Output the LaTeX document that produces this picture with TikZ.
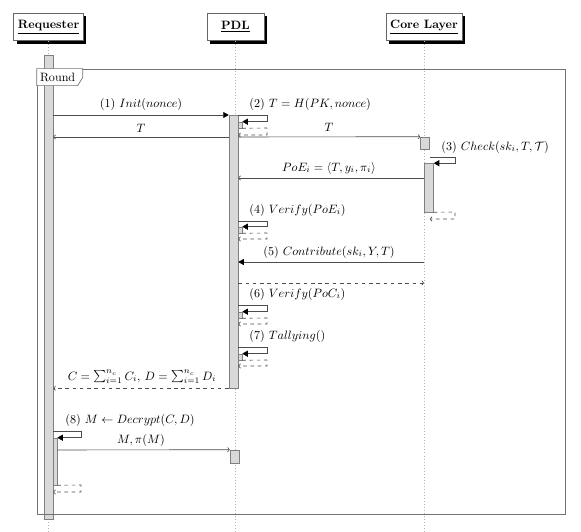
\documentclass[tikz,border=0pt]{standalone}
\usetikzlibrary{arrows.meta,fit,shadows}
\begin{document}
\begin{tikzpicture}[x=0.826pt,y=-0.826pt,
  hdr/.style={draw=gray!80!black, fill=white, font=\bfseries, inner xsep=3.5pt, minimum height=22.5pt, minimum width=47pt,
    drop shadow={shadow xshift=2.4pt, shadow yshift=-2.4pt, fill=black, opacity=1}},
  bar/.style={draw=gray, fill=gray!30, inner sep=0pt, line width=0.5pt},
  life/.style={draw=gray!60, dotted, line width=0.5pt},
  call/.style={draw=black!70, line width=0.5pt, -{Triangle[length=4.5pt,width=5pt,color=black]}},
  mess/.style={draw=black!70, line width=0.5pt, -{To[length=2pt,width=4pt]}},
  ret/.style={mess, dashed},
  lbl/.style={inner sep=1pt},
  frm/.style={draw=gray!90!black, line width=0.6pt, inner sep=0pt},
]
\useasboundingbox (0,0) rectangle (581,532);

% headers
\node[hdr] (req) at (48.6,27) {\underline{Requester}};
\node[hdr] (pdl) at (235.5,27) {\underline{PDL}};
\node[hdr] (core) at (424,27) {\underline{Core Layer}};

% lifelines
\draw[life] (req.south) -- (req.south |- 0,532);
\draw[life] (pdl.south) -- (pdl.south |- 0,532);
\draw[life] (core.south) -- (core.south |- 0,532);

% activation bars
\node[bar, fit={(44,55) (53,519)}] (reqbar) {};
\node[bar, fit={(229,115) (238,388)}] (pdlbar) {};
\node[bar, fit={(238,122) (242,128)}] (s2) {};
\node[bar, fit={(420.5,137) (429.5,149)}] (c1) {};
\node[bar, fit={(424.5,163.5) (433.5,212)}] (c2) {};
\node[bar, fit={(238,227) (242,233)}] (s4) {};
\node[bar, fit={(238,312) (242,318)}] (s6) {};
\node[bar, fit={(238,354) (242,360)}] (s7) {};
\node[bar, fit={(53,438) (57,485)}] (r8) {};
\node[bar, fit={(230,450) (239,463)}] (p9) {};

% frame
\node[frm, fit={(37,69) (565,514)}] (round) {};
\draw[frm, fill=white] (round.north west) -- ++(46,0) -- ++(0,9) -- ++(-5,8) -- ++(-41,0) -- cycle;
\node[anchor=west, inner sep=1.5pt] (roundlbl) at (38,77) {Round};

% (1)
\draw[call] (reqbar.east |- 0,115) -- (pdlbar.west |- 0,115);
\node[lbl] (m1) at (141,104) {(1) $Init(nonce)$};
% (2)
\draw[call] (pdlbar.east |- 0,115) -- (267,115) |- (s2.north east);
\draw[ret] (s2.south east) -- (267,128) |- (pdlbar.east |- 0,135);
\node[lbl, anchor=west] (m2) at (248,104) {(2) $T = H(PK, nonce)$};
% T
\draw[mess] (pdlbar.west |- 0,137) -- (reqbar.east |- 0,137);
\node[lbl] (t1) at (141,128) {$T$};
\draw[mess] (pdlbar.east |- 0,137) -- (c1.north west);
\node[lbl] (t2) at (329,127) {$T$};
% (3)
\draw[call] (c1.east |- 0,157) -- (455,157) |- (c2.north east);
\draw[ret] (c2.south east) -- (455,212) |- (c1.east |- 0,219);
\node[lbl, anchor=west] (m3) at (440,147) {(3) $Check(sk_i, T, \mathcal{T})$};
% PoE
\draw[mess] (c2.west |- 0,178) -- (pdlbar.east |- 0,178);
\node[lbl] (poe) at (329,168) {$PoE_i = \langle T, y_i, \pi_i\rangle$};
% (4)
\draw[call] (pdlbar.east |- 0,221) -- (267,221) |- (s4.north east);
\draw[ret] (s4.south east) -- (267,233) |- (pdlbar.east |- 0,239);
\node[lbl, anchor=west] (m4) at (248,210) {(4) $Verify(PoE_i)$};
% (5)
\draw[call] (core.south |- 0,262) -- (pdlbar.east |- 0,262);
\node[lbl] (m5) at (329,252) {(5) $Contribute(sk_i, Y, T)$};
\draw[ret] (pdlbar.east |- 0,283) -- (core.south |- 0,283);
% (6)
\draw[call] (pdlbar.east |- 0,305) -- (267,305) |- (s6.north east);
\draw[ret] (s6.south east) -- (267,318) |- (pdlbar.east |- 0,324);
\node[lbl, anchor=west] (m6) at (248,294) {(6) $Verify(PoC_i)$};
% (7)
\draw[call] (pdlbar.east |- 0,347) -- (267,347) |- (s7.north east);
\draw[ret] (s7.south east) -- (267,360) |- (pdlbar.east |- 0,366);
\node[lbl, anchor=west] (m7) at (248,336) {(7) $Tallying()$};
% result
\draw[ret] (pdlbar.south west) -- (reqbar.east |- pdlbar.south);
\node[lbl] (res) at (142,377) {$C = \sum_{i=1}^{n_c} C_i,\, D = \sum_{i=1}^{n_c} D_i$};
% (8)
\draw[call] (reqbar.east |- 0,431) -- (81,431) |- (r8.north east);
\draw[ret] (r8.south east) -- (81,485) |- (reqbar.east |- 0,492);
\node[lbl] (m8) at (130,420) {(8) $M \leftarrow Decrypt(C, D)$};
% M, pi(M)
\draw[mess] (r8.east |- 0,450) -- (p9.north west);
\node[lbl] (m9) at (141,440) {$M, \pi(M)$};
\end{tikzpicture}
\end{document}
